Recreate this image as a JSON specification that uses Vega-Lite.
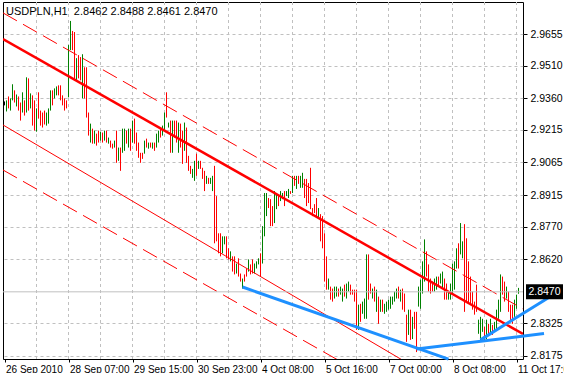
{
"$schema":"https://vega.github.io/schema/vega-lite/v6.json",
"width":520,"height":357,
"autosize":{"type":"none"},
"padding":{"left":3,"top":2,"right":41,"bottom":14},
"background":"white",
"config":{"view":{"stroke":"black","strokeWidth":1},"axis":{"labelFont":"Liberation Sans","labelFontSize":10,"labelColor":"black","tickColor":"black"}},
"title":{"text":"USDPLN,H1\u00a0 2.8462 2.8488 2.8461 2.8470","anchor":"start","frame":"group","orient":"top","offset":-12,"dy":12,"baseline":"alphabetic","dx":3,"font":"Liberation Sans","fontSize":11,"fontWeight":"normal","color":"black"},
"resolve":{"axis":{"x":"independent","y":"independent"}},
"datasets":{
"bars":[
{"i":0,"h":2.9345,"l":2.9327,"d":"n"},{"i":1,"h":2.9350,"l":2.9299,"d":"u"},{"i":2,"h":2.9368,"l":2.9313,"d":"d"},{"i":3,"h":2.9359,"l":2.9303,"d":"u"},{"i":4,"h":2.9424,"l":2.9350,"d":"u"},{"i":5,"h":2.9396,"l":2.9340,"d":"d"},{"i":6,"h":2.9377,"l":2.9322,"d":"u"},{"i":7,"h":2.9368,"l":2.9303,"d":"d"},{"i":8,"h":2.9340,"l":2.9257,"d":"d"},{"i":9,"h":2.9387,"l":2.9294,"d":"u"},
{"i":10,"h":2.9350,"l":2.9280,"d":"d"},{"i":11,"h":2.9456,"l":2.9294,"d":"u"},{"i":12,"h":2.9451,"l":2.9303,"d":"d"},{"i":13,"h":2.9382,"l":2.9313,"d":"u"},{"i":14,"h":2.9373,"l":2.9234,"d":"d"},{"i":15,"h":2.9350,"l":2.9211,"d":"d"},{"i":16,"h":2.9313,"l":2.9206,"d":"u"},{"i":17,"h":2.9387,"l":2.9266,"d":"d"},{"i":18,"h":2.9303,"l":2.9234,"d":"d"},{"i":19,"h":2.9294,"l":2.9225,"d":"d"},
{"i":20,"h":2.9303,"l":2.9239,"d":"d"},{"i":21,"h":2.9294,"l":2.9234,"d":"u"},{"i":22,"h":2.9313,"l":2.9243,"d":"u"},{"i":23,"h":2.9396,"l":2.9303,"d":"u"},{"i":24,"h":2.9396,"l":2.9327,"d":"d"},{"i":25,"h":2.9405,"l":2.9359,"d":"u"},{"i":26,"h":2.9414,"l":2.9373,"d":"u"},{"i":27,"h":2.9419,"l":2.9373,"d":"d"},{"i":28,"h":2.9419,"l":2.9350,"d":"d"},{"i":29,"h":2.9373,"l":2.9327,"d":"d"},
{"i":30,"h":2.9359,"l":2.9303,"d":"d"},{"i":31,"h":2.9350,"l":2.9313,"d":"d"},{"i":32,"h":2.9604,"l":2.9364,"d":"u"},{"i":33,"h":2.9715,"l":2.9581,"d":"u"},{"i":34,"h":2.9669,"l":2.9581,"d":"d"},{"i":35,"h":2.9664,"l":2.9442,"d":"d"},{"i":36,"h":2.9544,"l":2.9442,"d":"u"},{"i":37,"h":2.9558,"l":2.9451,"d":"d"},{"i":38,"h":2.9549,"l":2.9442,"d":"d"},{"i":39,"h":2.9562,"l":2.9359,"d":"u"},
{"i":40,"h":2.9502,"l":2.9359,"d":"d"},{"i":41,"h":2.9502,"l":2.9271,"d":"d"},{"i":42,"h":2.9294,"l":2.9188,"d":"d"},{"i":43,"h":2.9243,"l":2.9156,"d":"u"},{"i":44,"h":2.9220,"l":2.9151,"d":"d"},{"i":45,"h":2.9211,"l":2.9151,"d":"u"},{"i":46,"h":2.9197,"l":2.9142,"d":"d"},{"i":47,"h":2.9211,"l":2.9156,"d":"d"},{"i":48,"h":2.9206,"l":2.9165,"d":"u"},{"i":49,"h":2.9202,"l":2.9156,"d":"d"},
{"i":50,"h":2.9211,"l":2.9165,"d":"u"},{"i":51,"h":2.9211,"l":2.9156,"d":"d"},{"i":52,"h":2.9179,"l":2.9151,"d":"u"},{"i":53,"h":2.9165,"l":2.9133,"d":"d"},{"i":54,"h":2.9151,"l":2.9128,"d":"d"},{"i":55,"h":2.9165,"l":2.9133,"d":"u"},{"i":56,"h":2.9211,"l":2.9063,"d":"d"},{"i":57,"h":2.9133,"l":2.9072,"d":"u"},{"i":58,"h":2.9133,"l":2.9026,"d":"d"},{"i":59,"h":2.9220,"l":2.9109,"d":"u"},
{"i":60,"h":2.9220,"l":2.9118,"d":"u"},{"i":61,"h":2.9211,"l":2.9151,"d":"d"},{"i":62,"h":2.9220,"l":2.9133,"d":"u"},{"i":63,"h":2.9220,"l":2.9118,"d":"d"},{"i":64,"h":2.9257,"l":2.9156,"d":"u"},{"i":65,"h":2.9266,"l":2.9151,"d":"d"},{"i":66,"h":2.9202,"l":2.9118,"d":"d"},{"i":67,"h":2.9156,"l":2.9086,"d":"d"},{"i":68,"h":2.9109,"l":2.9063,"d":"d"},{"i":69,"h":2.9109,"l":2.9081,"d":"d"},
{"i":70,"h":2.9165,"l":2.9105,"d":"u"},{"i":71,"h":2.9174,"l":2.9133,"d":"d"},{"i":72,"h":2.9156,"l":2.9128,"d":"u"},{"i":73,"h":2.9156,"l":2.9133,"d":"d"},{"i":74,"h":2.9156,"l":2.9128,"d":"u"},{"i":75,"h":2.9156,"l":2.9118,"d":"d"},{"i":76,"h":2.9197,"l":2.9133,"d":"u"},{"i":77,"h":2.9211,"l":2.9156,"d":"u"},{"i":78,"h":2.9220,"l":2.9179,"d":"d"},{"i":79,"h":2.9234,"l":2.9188,"d":"u"},
{"i":80,"h":2.9294,"l":2.9211,"d":"u"},{"i":81,"h":2.9387,"l":2.9271,"d":"d"},{"i":82,"h":2.9248,"l":2.9225,"d":"u"},{"i":83,"h":2.9257,"l":2.9109,"d":"d"},{"i":84,"h":2.9257,"l":2.9109,"d":"u"},{"i":85,"h":2.9257,"l":2.9179,"d":"d"},{"i":86,"h":2.9257,"l":2.9156,"d":"d"},{"i":87,"h":2.9248,"l":2.9109,"d":"u"},{"i":88,"h":2.9243,"l":2.9133,"d":"d"},{"i":89,"h":2.9211,"l":2.9058,"d":"d"},
{"i":90,"h":2.9248,"l":2.9118,"d":"u"},{"i":91,"h":2.9225,"l":2.9063,"d":"d"},{"i":92,"h":2.9095,"l":2.9026,"d":"d"},{"i":93,"h":2.9049,"l":2.9012,"d":"d"},{"i":94,"h":2.9035,"l":2.8994,"d":"u"},{"i":95,"h":2.9072,"l":2.8980,"d":"u"},{"i":96,"h":2.9105,"l":2.9003,"d":"d"},{"i":97,"h":2.9072,"l":2.9035,"d":"u"},{"i":98,"h":2.9072,"l":2.9035,"d":"d"},{"i":99,"h":2.9040,"l":2.8989,"d":"d"},
{"i":100,"h":2.9026,"l":2.8933,"d":"d"},{"i":101,"h":2.9003,"l":2.8966,"d":"u"},{"i":102,"h":2.8994,"l":2.8966,"d":"d"},{"i":103,"h":2.8994,"l":2.8966,"d":"u"},{"i":104,"h":2.9003,"l":2.8933,"d":"u"},{"i":105,"h":2.9049,"l":2.8693,"d":"d"},{"i":106,"h":2.8910,"l":2.8702,"d":"d"},{"i":107,"h":2.8739,"l":2.8647,"d":"d"},{"i":108,"h":2.8739,"l":2.8633,"d":"d"},{"i":109,"h":2.8725,"l":2.8647,"d":"u"},
{"i":110,"h":2.8725,"l":2.8688,"d":"u"},{"i":111,"h":2.8725,"l":2.8624,"d":"d"},{"i":112,"h":2.8670,"l":2.8619,"d":"d"},{"i":113,"h":2.8656,"l":2.8610,"d":"u"},{"i":114,"h":2.8633,"l":2.8563,"d":"d"},{"i":115,"h":2.8633,"l":2.8550,"d":"d"},{"i":116,"h":2.8600,"l":2.8554,"d":"u"},{"i":117,"h":2.8624,"l":2.8540,"d":"d"},{"i":118,"h":2.8554,"l":2.8517,"d":"d"},{"i":119,"h":2.8531,"l":2.8485,"d":"u"},
{"i":120,"h":2.8550,"l":2.8517,"d":"d"},{"i":121,"h":2.8577,"l":2.8540,"d":"d"},{"i":122,"h":2.8619,"l":2.8563,"d":"u"},{"i":123,"h":2.8596,"l":2.8550,"d":"d"},{"i":124,"h":2.8619,"l":2.8554,"d":"d"},{"i":125,"h":2.8600,"l":2.8554,"d":"u"},{"i":126,"h":2.8610,"l":2.8577,"d":"u"},{"i":127,"h":2.8624,"l":2.8596,"d":"u"},{"i":128,"h":2.8647,"l":2.8540,"d":"d"},{"i":129,"h":2.8772,"l":2.8600,"d":"u"},
{"i":130,"h":2.8924,"l":2.8725,"d":"u"},{"i":131,"h":2.8924,"l":2.8818,"d":"u"},{"i":132,"h":2.8901,"l":2.8855,"d":"d"},{"i":133,"h":2.8896,"l":2.8772,"d":"d"},{"i":134,"h":2.8864,"l":2.8772,"d":"d"},{"i":135,"h":2.8933,"l":2.8786,"d":"u"},{"i":136,"h":2.8920,"l":2.8850,"d":"u"},{"i":137,"h":2.8910,"l":2.8864,"d":"d"},{"i":138,"h":2.8933,"l":2.8887,"d":"u"},{"i":139,"h":2.8924,"l":2.8896,"d":"u"},
{"i":140,"h":2.8933,"l":2.8864,"d":"d"},{"i":141,"h":2.8933,"l":2.8910,"d":"u"},{"i":142,"h":2.8943,"l":2.8901,"d":"u"},{"i":143,"h":2.8933,"l":2.8920,"d":"d"},{"i":144,"h":2.9003,"l":2.8924,"d":"u"},{"i":145,"h":2.9003,"l":2.8957,"d":"d"},{"i":146,"h":2.9003,"l":2.8943,"d":"u"},{"i":147,"h":2.9003,"l":2.8966,"d":"d"},{"i":148,"h":2.9003,"l":2.8948,"d":"u"},{"i":149,"h":2.9017,"l":2.8948,"d":"u"},
{"i":150,"h":2.8989,"l":2.8901,"d":"d"},{"i":151,"h":2.8989,"l":2.8864,"d":"d"},{"i":152,"h":2.8970,"l":2.8878,"d":"d"},{"i":153,"h":2.9040,"l":2.8850,"d":"d"},{"i":154,"h":2.8855,"l":2.8818,"d":"d"},{"i":155,"h":2.8873,"l":2.8832,"d":"d"},{"i":156,"h":2.8901,"l":2.8818,"d":"d"},{"i":157,"h":2.8855,"l":2.8809,"d":"u"},{"i":158,"h":2.8827,"l":2.8702,"d":"d"},{"i":159,"h":2.8818,"l":2.8670,"d":"d"},
{"i":160,"h":2.8739,"l":2.8517,"d":"d"},{"i":161,"h":2.8633,"l":2.8480,"d":"d"},{"i":162,"h":2.8531,"l":2.8480,"d":"u"},{"i":163,"h":2.8494,"l":2.8434,"d":"d"},{"i":164,"h":2.8485,"l":2.8425,"d":"d"},{"i":165,"h":2.8494,"l":2.8439,"d":"u"},{"i":166,"h":2.8494,"l":2.8448,"d":"u"},{"i":167,"h":2.8485,"l":2.8448,"d":"d"},{"i":168,"h":2.8494,"l":2.8457,"d":"u"},{"i":169,"h":2.8485,"l":2.8425,"d":"u"},
{"i":170,"h":2.8503,"l":2.8448,"d":"d"},{"i":171,"h":2.8508,"l":2.8439,"d":"u"},{"i":172,"h":2.8517,"l":2.8471,"d":"u"},{"i":173,"h":2.8503,"l":2.8457,"d":"d"},{"i":174,"h":2.8480,"l":2.8457,"d":"d"},{"i":175,"h":2.8480,"l":2.8425,"d":"d"},{"i":176,"h":2.8480,"l":2.8295,"d":"d"},{"i":177,"h":2.8411,"l":2.8295,"d":"u"},{"i":178,"h":2.8415,"l":2.8332,"d":"d"},{"i":179,"h":2.8425,"l":2.8369,"d":"u"},
{"i":180,"h":2.8439,"l":2.8346,"d":"u"},{"i":181,"h":2.8642,"l":2.8346,"d":"u"},{"i":182,"h":2.8642,"l":2.8434,"d":"d"},{"i":183,"h":2.8508,"l":2.8462,"d":"d"},{"i":184,"h":2.8485,"l":2.8439,"d":"u"},{"i":185,"h":2.8494,"l":2.8425,"d":"d"},{"i":186,"h":2.8480,"l":2.8378,"d":"u"},{"i":187,"h":2.8448,"l":2.8323,"d":"d"},{"i":188,"h":2.8434,"l":2.8378,"d":"u"},{"i":189,"h":2.8434,"l":2.8378,"d":"d"},
{"i":190,"h":2.8415,"l":2.8369,"d":"u"},{"i":191,"h":2.8425,"l":2.8378,"d":"u"},{"i":192,"h":2.8434,"l":2.8388,"d":"u"},{"i":193,"h":2.8448,"l":2.8392,"d":"u"},{"i":194,"h":2.8448,"l":2.8411,"d":"u"},{"i":195,"h":2.8471,"l":2.8425,"d":"u"},{"i":196,"h":2.8485,"l":2.8439,"d":"u"},{"i":197,"h":2.8494,"l":2.8439,"d":"d"},{"i":198,"h":2.8480,"l":2.8425,"d":"u"},{"i":199,"h":2.8485,"l":2.8388,"d":"d"},
{"i":200,"h":2.8462,"l":2.8378,"d":"d"},{"i":201,"h":2.8365,"l":2.8240,"d":"d"},{"i":202,"h":2.8388,"l":2.8272,"d":"u"},{"i":203,"h":2.8388,"l":2.8249,"d":"d"},{"i":204,"h":2.8355,"l":2.8253,"d":"u"},{"i":205,"h":2.8378,"l":2.8300,"d":"d"},{"i":206,"h":2.8378,"l":2.8193,"d":"d"},{"i":207,"h":2.8494,"l":2.8402,"d":"u"},{"i":208,"h":2.8526,"l":2.8392,"d":"u"},{"i":209,"h":2.8610,"l":2.8462,"d":"u"},
{"i":210,"h":2.8711,"l":2.8517,"d":"u"},{"i":211,"h":2.8656,"l":2.8540,"d":"d"},{"i":212,"h":2.8596,"l":2.8471,"d":"d"},{"i":213,"h":2.8531,"l":2.8462,"d":"d"},{"i":214,"h":2.8517,"l":2.8471,"d":"d"},{"i":215,"h":2.8531,"l":2.8471,"d":"u"},{"i":216,"h":2.8540,"l":2.8480,"d":"u"},{"i":217,"h":2.8540,"l":2.8494,"d":"d"},{"i":218,"h":2.8554,"l":2.8508,"d":"u"},{"i":219,"h":2.8563,"l":2.8485,"d":"u"},
{"i":220,"h":2.8531,"l":2.8434,"d":"d"},{"i":221,"h":2.8508,"l":2.8434,"d":"d"},{"i":222,"h":2.8471,"l":2.8434,"d":"u"},{"i":223,"h":2.8508,"l":2.8434,"d":"u"},{"i":224,"h":2.8600,"l":2.8457,"d":"u"},{"i":225,"h":2.8610,"l":2.8480,"d":"u"},{"i":226,"h":2.8670,"l":2.8577,"d":"u"},{"i":227,"h":2.8693,"l":2.8577,"d":"d"},{"i":228,"h":2.8786,"l":2.8642,"d":"u"},{"i":229,"h":2.8702,"l":2.8624,"d":"u"},
{"i":230,"h":2.8781,"l":2.8378,"d":"d"},{"i":231,"h":2.8716,"l":2.8425,"d":"d"},{"i":232,"h":2.8610,"l":2.8415,"d":"d"},{"i":233,"h":2.8540,"l":2.8411,"d":"d"},{"i":234,"h":2.8471,"l":2.8388,"d":"d"},{"i":235,"h":2.8425,"l":2.8365,"d":"d"},{"i":236,"h":2.8503,"l":2.8378,"d":"d"},{"i":237,"h":2.8342,"l":2.8277,"d":"u"},{"i":238,"h":2.8355,"l":2.8249,"d":"u"},{"i":239,"h":2.8346,"l":2.8286,"d":"u"},
{"i":240,"h":2.8309,"l":2.8240,"d":"d"},{"i":241,"h":2.8342,"l":2.8253,"d":"u"},{"i":242,"h":2.8323,"l":2.8272,"d":"d"},{"i":243,"h":2.8346,"l":2.8277,"d":"u"},{"i":244,"h":2.8318,"l":2.8272,"d":"d"},{"i":245,"h":2.8332,"l":2.8286,"d":"u"},{"i":246,"h":2.8388,"l":2.8295,"d":"u"},{"i":247,"h":2.8434,"l":2.8346,"d":"u"},{"i":248,"h":2.8550,"l":2.8378,"d":"u"},{"i":249,"h":2.8540,"l":2.8457,"d":"d"},
{"i":250,"h":2.8517,"l":2.8425,"d":"d"},{"i":251,"h":2.8494,"l":2.8439,"d":"u"},{"i":252,"h":2.8471,"l":2.8378,"d":"d"},{"i":253,"h":2.8411,"l":2.8332,"d":"d"},{"i":254,"h":2.8411,"l":2.8323,"d":"d"},{"i":255,"h":2.8434,"l":2.8355,"d":"u"},{"i":256,"h":2.8457,"l":2.8392,"d":"u"},{"i":257,"h":2.8488,"l":2.8461,"d":"u"}
],
"vgrid":[{"i":16},{"i":32},{"i":48},{"i":64},{"i":80},{"i":96},{"i":112},{"i":128},{"i":144},{"i":160},{"i":176},{"i":192},{"i":208},{"i":224},{"i":240},{"i":256}],
"lines":[
{"name":"mid","i":-0.75,"p":2.9632},{"name":"mid","i":259.25,"p":2.8276},
{"name":"upper","i":-0.75,"p":2.9752},{"name":"upper","i":259.25,"p":2.8391},
{"name":"thin","i":-0.75,"p":2.9237},{"name":"thin","i":259.25,"p":2.7830},
{"name":"lower","i":-0.75,"p":2.9030},{"name":"lower","i":259.25,"p":2.7674},
{"name":"A","i":119,"p":2.8492},{"name":"A","i":222,"p":2.8161},
{"name":"B","i":206,"p":2.8207},{"name":"B","i":269.75,"p":2.8278},
{"name":"C","i":238,"p":2.8249},{"name":"C","i":271.75,"p":2.8442}
],
"bid":[{"p":2.847,"t":"2.8470"}]
},
"layer":[
{"data":{"name":"vgrid"},"mark":{"type":"rule","color":"#C0C0C0","strokeWidth":1,"strokeDash":[3,3]},
"encoding":{"x":{"field":"i","type":"quantitative","scale":{"domain":[-0.75,259.25],"nice":false,"zero":false},"axis":null}}},
{"data":{"name":"bars"},"mark":{"type":"rule","strokeWidth":1},
"encoding":{
"x":{"field":"i","type":"quantitative","scale":{"domain":[-0.75,259.25],"nice":false,"zero":false},"axis":{"orient":"bottom","values":[0,32,64,96,128,160,192,224,256],"grid":false,"labelExpr":"['26 Sep 2010','28 Sep 07:00','29 Sep 15:00','30 Sep 23:00','4 Oct 08:00','5 Oct 16:00','7 Oct 00:00','8 Oct 08:00','11 Oct 17:00'][round(datum.value/32)]","labelAlign":"left","labelBaseline":"top","labelPadding":2,"labelOffset":1,"tickSize":3,"domain":false,"labelOverlap":false,"labelFlush":false,"labelBound":false,"title":null}},
"y":{"field":"h","type":"quantitative","scale":{"domain":[2.81612,2.98021],"nice":false,"zero":false},"axis":{"orient":"right","values":[2.8175,2.8325,2.862,2.877,2.8915,2.9065,2.9215,2.936,2.951,2.9655],"format":".4f","grid":true,"gridColor":"#C0C0C0","gridDash":[3,3],"tickSize":4,"labelPadding":3,"labelFontSize":10.5,"domain":false,"title":null,"labelBaseline":"middle","labelOverlap":false,"labelFlush":false}},
"y2":{"field":"l"},
"color":{"field":"d","type":"nominal","scale":{"domain":["u","d","n"],"range":["#008000","#FF0000","#000000"]},"legend":null}}},
{"data":{"name":"lines"},"transform":[{"filter":"datum.name=='mid'"}],"mark":{"type":"line","color":"#FF0000","strokeWidth":2.5,"clip":true},
"encoding":{"x":{"field":"i","type":"quantitative","axis":null},"y":{"field":"p","type":"quantitative","axis":null}}},
{"data":{"name":"lines"},"transform":[{"filter":"datum.name=='upper' || datum.name=='lower'"}],"mark":{"type":"line","color":"#FF0000","strokeWidth":1,"strokeDash":[16,7],"clip":true},
"encoding":{"x":{"field":"i","type":"quantitative","axis":null},"y":{"field":"p","type":"quantitative","axis":null},"detail":{"field":"name"}}},
{"data":{"name":"lines"},"transform":[{"filter":"datum.name=='thin'"}],"mark":{"type":"line","color":"#FF0000","strokeWidth":1,"clip":true},
"encoding":{"x":{"field":"i","type":"quantitative","axis":null},"y":{"field":"p","type":"quantitative","axis":null}}},
{"data":{"name":"bid"},"mark":{"type":"rule","color":"#C0C0C0","strokeWidth":1},
"encoding":{"y":{"field":"p","type":"quantitative","axis":null}}},
{"data":{"name":"lines"},"transform":[{"filter":"datum.name=='A' || datum.name=='B' || datum.name=='C'"}],"mark":{"type":"line","color":"#1E90FF","strokeWidth":3,"clip":false},
"encoding":{"x":{"field":"i","type":"quantitative","axis":null},"y":{"field":"p","type":"quantitative","axis":null},"detail":{"field":"name"}}},
{"data":{"name":"bid"},"mark":{"type":"tick","orient":"horizontal","color":"black","size":37,"thickness":15,"opacity":1},
"encoding":{"x":{"datum":270,"type":"quantitative","axis":null},"y":{"field":"p","type":"quantitative","axis":null}}},
{"data":{"name":"bid"},"mark":{"type":"text","color":"white","font":"Liberation Sans","fontSize":10.5,"align":"center","baseline":"middle"},
"encoding":{"x":{"datum":270,"type":"quantitative","axis":null},"y":{"field":"p","type":"quantitative","axis":null},"text":{"field":"t"}}}
]
}
